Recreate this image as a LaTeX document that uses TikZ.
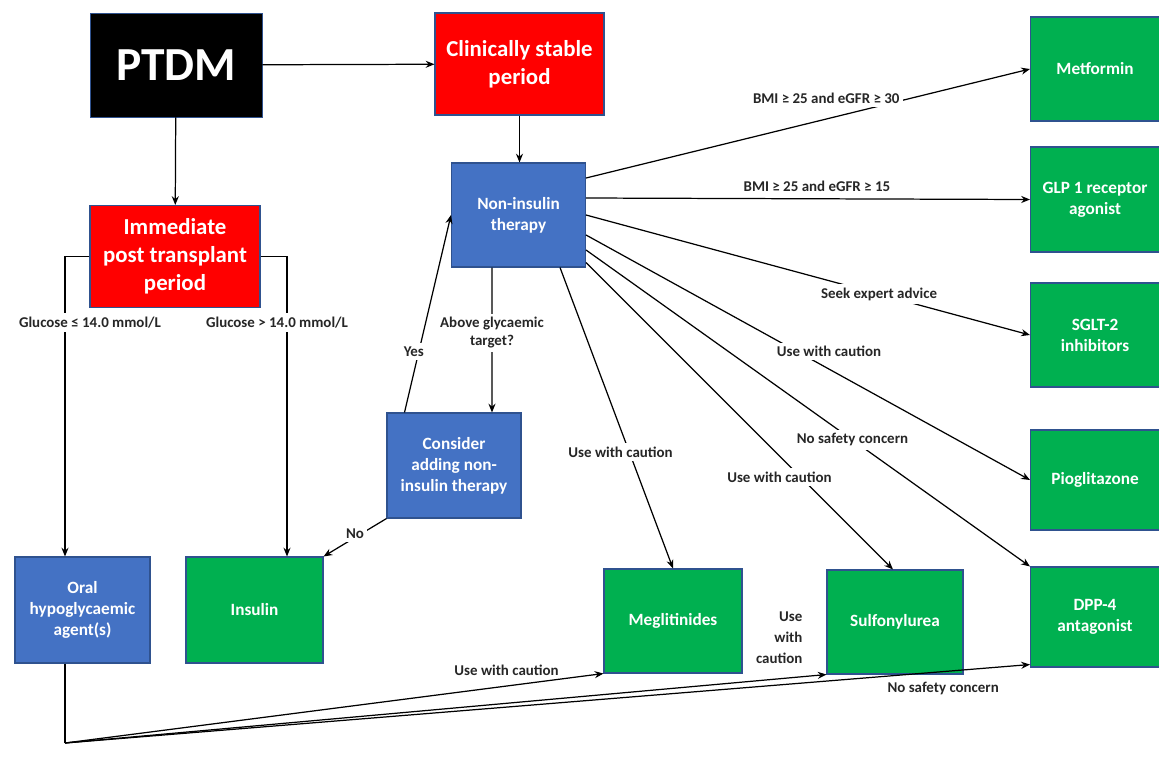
\documentclass[tikz,border=0pt]{standalone}
\usepackage{fontspec}
\setmainfont{Carlito}
\usepackage{xcolor}
\usetikzlibrary{arrows.meta,positioning,calc}
\definecolor{BoxBlue}{RGB}{68,114,196}
\definecolor{BoxGreen}{RGB}{0,176,80}
\definecolor{BoxRed}{RGB}{255,0,0}
\definecolor{EdgeBlue}{RGB}{47,82,143}
\tikzset{
  bbox/.style={draw=EdgeBlue,fill=BoxBlue,text=white,line width=0.6pt,
               minimum width=2.68cm,minimum height=2.08cm,align=center,
               font=\fontsize{9.8}{12}\selectfont\bfseries,inner sep=2pt},
  gbox/.style={draw=EdgeBlue,fill=BoxGreen,text=white,line width=0.6pt,
               minimum width=2.72cm,minimum height=2.08cm,align=center,
               font=\fontsize{9.8}{12}\selectfont\bfseries,inner sep=2pt},
  rbox/.style={draw=EdgeBlue,fill=BoxRed,text=white,line width=0.6pt,
               minimum width=3.4cm,minimum height=2.04cm,align=center,
               font=\fontsize{13}{16}\selectfont\bfseries,inner sep=2pt},
  lbl/.style={fill=white,inner sep=2pt,align=center,
              font=\fontsize{8.5}{10}\selectfont\bfseries,text=black!85},
  arr/.style={-{Stealth[length=5pt,width=4pt]},line width=0.7pt},
  ln/.style={line width=0.7pt},
}
\begin{document}
\begin{tikzpicture}[x=0.02cm,y=-0.02cm]
    \useasboundingbox (0,0) rectangle (1159,778);

    % Start and periods
    \node[draw=EdgeBlue,fill=black,text=white,minimum width=3.44cm,minimum height=2.08cm,
          font=\fontsize{27}{30}\selectfont\bfseries] (ptdm) at (176,65) {PTDM};
    \node[rbox, minimum width=3.38cm] (stable) at (519.5,64) {Clinically stable\\period};
    \node[rbox] (immed) at (175,256.5) {Immediate\\post transplant\\period};

    % Therapy decisions
    \node[bbox] (nonins) at (518.5,215) {Non-insulin\\therapy};
    \node[bbox, minimum height=2.1cm] (consider) at (454,465.5) {Consider\\adding non-\\insulin therapy};
    \node[bbox, minimum width=2.7cm, minimum height=2.12cm] (oral) at (82.5,610) {Oral\\hypoglycaemic\\agent(s)};
    \node[gbox, minimum width=2.74cm, minimum height=2.12cm] (insulin) at (254.5,610) {Insulin};

    % Drug classes
    \node[gbox, minimum width=2.76cm] (meglit) at (673,621) {Meglitinides};
    \node[gbox] (sulfo) at (895,622) {Sulfonylurea};
    \node[gbox, minimum width=2.58cm, minimum height=2.08cm] (metf) at (1095,69) {Metformin};
    \node[gbox, minimum width=2.58cm, minimum height=2.1cm] (glp) at (1095,199.5) {GLP 1 receptor\\agonist};
    \node[gbox, minimum width=2.58cm, minimum height=2.08cm] (sglt) at (1095,335) {SGLT-2\\inhibitors};
    \node[gbox, minimum width=2.58cm, minimum height=2cm] (pio) at (1095,480) {Pioglitazone};
    \node[gbox, minimum width=2.58cm, minimum height=2cm] (dpp) at (1095,617) {DPP-4\\antagonist};

    % Top flow
    \draw[arr] (ptdm) -- (stable);
    \draw[arr] (ptdm) -- (immed);
    \draw[arr] (stable) -- (stable |- nonins.north);

    % Immediate period split
    \coordinate (gleft) at (65,256.5);
    \coordinate (gright) at (287,256.5);
    \draw[arr] (immed.west) -- (gleft) -- node[lbl, pos=0.22, xshift=0.5cm] {Glucose ≤ 14.0 mmol/L} (oral.north -| gleft);
    \draw[arr] (immed.east) -- (gright) -- node[lbl, pos=0.22, xshift=-0.2cm] {Glucose > 14.0 mmol/L} (insulin.north -| gright);

    % Glycaemic target loop
    \draw[arr] ([xshift=-0.53cm]nonins.south) -- node[lbl, pos=0.45] {Above glycaemic\\target?} ([xshift=0.76cm]consider.north);
    \draw[arr] ([xshift=0.36cm]consider.north west) -- node[lbl, pos=0.31, xshift=-0.1cm] {Yes} (nonins.west);
    \draw[arr] (consider.south west) -- node[lbl, pos=0.5, yshift=0.08cm] {No} (insulin.north east);

    % Non-insulin therapy options
    \draw[arr] ([yshift=0.74cm]nonins.east) -- node[lbl, pos=0.62, xshift=-0.7cm, yshift=0.25cm] {BMI ≥ 25 and eGFR ≥ 30} (metf.west);
    \draw[arr] ([yshift=0.34cm]nonins.east) -- node[lbl, above, fill=none, pos=0.52, yshift=0.06cm] {BMI ≥ 25 and eGFR ≥ 15} (glp.west);
    \draw[arr] (nonins.east) -- node[lbl, pos=0.66] {Seek expert advice} (sglt.west);
    \draw[arr] ([yshift=-0.4cm]nonins.east) -- node[lbl, pos=0.5, xshift=0.42cm, yshift=0.12cm] {Use with caution} (pio.west);
    \draw[arr] ([yshift=-0.7cm]nonins.east) -- node[lbl, pos=0.6] {No safety concern} (dpp.north west);
    \draw[arr] ([yshift=0.1cm]nonins.south east) -- node[lbl, pos=0.63, yshift=-0.42cm] {Use with caution} ([xshift=-0.04cm]sulfo.north);
    \draw[arr] ([xshift=-0.52cm]nonins.south east) -- node[lbl, pos=0.58, xshift=-0.1cm, yshift=-0.2cm] {Use with caution} (meglit.north);

    % Oral agents
    \coordinate (obot) at (65,743);
    \draw[ln] (oral.south -| obot) -- (obot);
    \draw[arr] (obot) -- node[lbl, above, fill=none, pos=0.82, yshift=0.12cm] {Use with caution} (meglit.south west);
    \draw[arr] (obot) -- node[lbl, pos=1, anchor=south east, fill=none, xshift=-0.4cm, yshift=0.14cm, align=right,
                              font=\fontsize{8.5}{12}\selectfont\bfseries] {Use\\with\\caution} (sulfo.south west);
    \draw[arr] (obot) -- node[lbl, below, fill=none, pos=0.91, yshift=-0.12cm] {No safety concern} ([yshift=0.06cm]dpp.south west);

\end{tikzpicture}
\end{document}
